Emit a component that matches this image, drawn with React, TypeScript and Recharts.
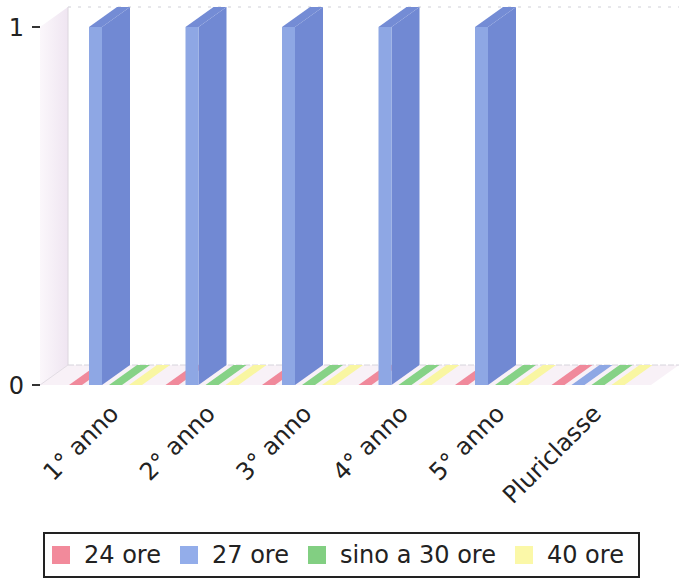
import React from 'react';
import { BarChart, Bar, XAxis, YAxis, Legend, ReferenceArea } from 'recharts';

const categories = ['1° anno', '2° anno', '3° anno', '4° anno', '5° anno', 'Pluriclasse'];
const ore24 = [0, 0, 0, 0, 0, 0];
const ore27 = [1, 1, 1, 1, 1, 0];
const ore30 = [0, 0, 0, 0, 0, 0];
const ore40 = [0, 0, 0, 0, 0, 0];
const seriesNames = ['24 ore', '27 ore', 'sino a 30 ore', '40 ore'];
const yTicks = [0, 1];

const data = categories.map((name, i) => ({
    name,
    [seriesNames[0]]: ore24[i],
    [seriesNames[1]]: ore27[i],
    [seriesNames[2]]: ore30[i],
    [seriesNames[3]]: ore40[i],
}));

// colours for each series: front face, side, top, legend swatch
const palette = [
    { face: '#f0899b', side: '#d8677d', top: '#dc6e83', swatch: '#f28a9b' },
    { face: '#8ea7e4', side: '#7189d3', top: '#748cd5', swatch: '#93adea' },
    { face: '#86d286', side: '#66b866', top: '#6cbd6c', swatch: '#82cf82' },
    { face: '#f9f6a2', side: '#e8e27c', top: '#ece783', swatch: '#fbf8a8' },
];

const FONT = "'DejaVu Sans', sans-serif";
// 3D depth of the plot box
const DX = 28;
const DY = 20;
const WALL_INSET = 17;

const Box3D = (props: any) => {
    const { x, y, width, height, colors } = props;
    if (x == null || y == null) return null;
    const w = width;
    if (!height || height <= 0) {
        // zero value -> flat slab lying on the floor
        return (
            <polygon
                points={`${x},${y} ${x + w},${y} ${x + w + DX},${y - DY} ${x + DX},${y - DY}`}
                fill={colors.face}
            />
        );
    }
    return (
        <g>
            <polygon
                points={`${x + w},${y} ${x + w + DX},${y - DY} ${x + w + DX},${y + height - DY} ${x + w},${y + height}`}
                fill={colors.side}
            />
            <polygon
                points={`${x},${y} ${x + DX},${y - DY} ${x + w + DX},${y - DY} ${x + w},${y}`}
                fill={colors.top}
            />
            <rect x={x} y={y} width={w} height={height} fill={colors.face} />
        </g>
    );
};

const Backdrop = (props: any) => {
    const { x, y, width, height } = props;
    const L = x - WALL_INSET;
    const R = x + width + 15;
    const T = y;
    const B = y + height;
    return (
        <g>
            <defs>
                <linearGradient id="wallGrad" x1="0" y1="0" x2="1" y2="0">
                    <stop offset="0%" stopColor="#fbf7fb" />
                    <stop offset="100%" stopColor="#efe5f1" />
                </linearGradient>
            </defs>
            <rect x={L + DX} y={T - DY} width={R - L} height={height} fill="#ffffff" />
            <polygon points={`${L},${T} ${L + DX},${T - DY} ${L + DX},${B - DY} ${L},${B}`} fill="url(#wallGrad)" />
            <polygon points={`${L},${B} ${R},${B} ${R + DX},${B - DY} ${L + DX},${B - DY}`} fill="#f8f1f7" />
            <line x1={L + DX} y1={T - DY} x2={R + DX} y2={T - DY} stroke="#cfcfd6" strokeDasharray="3 7" />
            <line x1={L + DX} y1={T - DY} x2={L + DX} y2={B - DY} stroke="#dcd6de" />
            <line x1={L + DX} y1={B - DY} x2={R + DX} y2={B - DY} stroke="#d6d4dc" strokeDasharray="6 2" />
            <line x1={L} y1={B} x2={L + DX} y2={B - DY} stroke="#e2dce4" />
        </g>
    );
};

const YTick = (props: any) => {
    const { x, y, payload } = props;
    return (
        <g>
            <line x1={x - WALL_INSET - 8} y1={y} x2={x - WALL_INSET} y2={y} stroke="#333" strokeWidth={2} />
            <text x={x - WALL_INSET - 16} y={y} dy="0.36em" textAnchor="end" fontFamily={FONT} fontSize={24} fill="#222">
                {payload.value}
            </text>
        </g>
    );
};

const XTick = (props: any) => {
    const { x, y, payload } = props;
    const ax = x + 15;
    const ay = y + 30;
    return (
        <text
            x={ax}
            y={ay}
            textAnchor="end"
            transform={`rotate(-45 ${ax} ${ay})`}
            fontFamily={FONT}
            fontSize={24}
            fill="#222"
        >
            {payload.value}
        </text>
    );
};

const renderLegend = () => (
    <div
        style={{
            boxSizing: 'border-box',
            height: 46,
            border: '2px solid #222',
            display: 'flex',
            alignItems: 'center',
            paddingLeft: 7,
            fontFamily: FONT,
            fontSize: 24,
            color: '#222',
            whiteSpace: 'nowrap',
        }}
    >
        {seriesNames.map((name, i) => (
            <span key={name} style={{ display: 'flex', alignItems: 'center', marginRight: 19 }}>
                <span style={{ display: 'inline-block', width: 18, height: 18, background: palette[i].swatch, marginRight: 14 }} />
                {name}
            </span>
        ))}
    </div>
);

const App: React.FC = () => {
    return (
        <div style={{ position: 'absolute', left: 0, top: 0, width: 679, height: 580, background: '#fff' }}>
            <BarChart
                width={679}
                height={580}
                data={data}
                margin={{ top: 27, right: 43, left: 0, bottom: 135 }}
                barGap={7}
            >
                <XAxis dataKey="name" axisLine={false} tickLine={false} tickSize={0} tickMargin={0} height={60} interval={0} tick={<XTick />} />
                <YAxis
                    domain={[0, 1]}
                    ticks={yTicks}
                    width={57}
                    axisLine={false}
                    tickLine={false}
                    tickSize={0}
                    tickMargin={0}
                    tick={<YTick />}
                />
                <ReferenceArea y1={0} y2={1} shape={<Backdrop />} />
                {seriesNames.map((name, i) => (
                    <Bar
                        key={name}
                        dataKey={name}
                        barSize={13}
                        isAnimationActive={false}
                        fill={palette[i].face}
                        shape={(p: any) => <Box3D {...p} colors={palette[i]} />}
                    />
                ))}
                <Legend
                    layout="horizontal"
                    verticalAlign="middle"
                    align="center"
                    wrapperStyle={{ left: 43, top: 532, width: 597 }}
                    content={renderLegend}
                />
            </BarChart>
        </div>
    );
};

export default App;
